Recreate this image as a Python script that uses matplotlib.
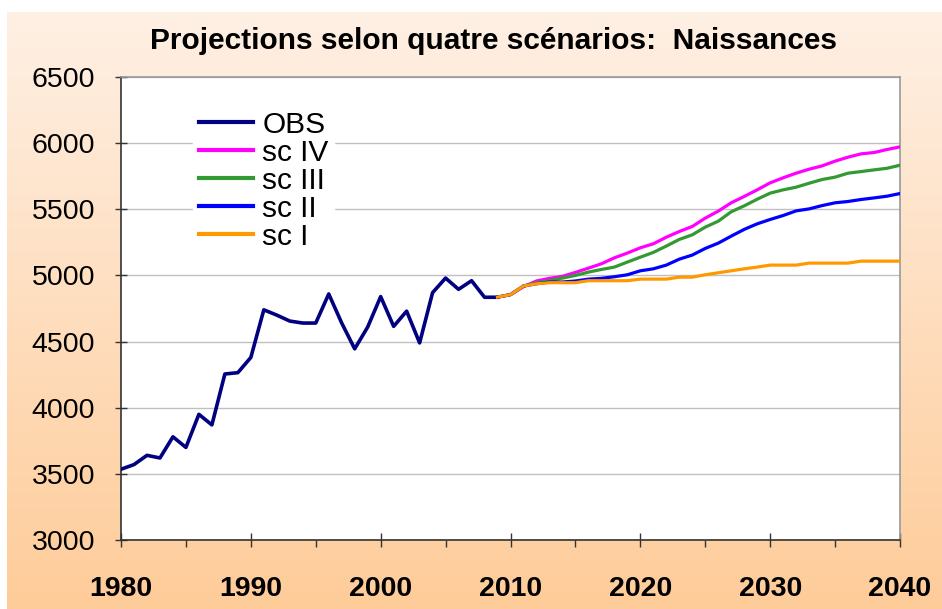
import numpy as np
import matplotlib
matplotlib.use("Agg")
import matplotlib.pyplot as plt
from matplotlib.ticker import MultipleLocator
from matplotlib.colors import LinearSegmentedColormap

plt.rcParams['font.family'] = ['Liberation Sans', 'DejaVu Sans']

title = "Projections selon quatre scénarios:  Naissances"

obs_years = list(range(1980, 2010))
obs = [3535, 3570, 3640, 3620, 3780, 3700, 3950, 3870, 4255, 4265,
       4380, 4740, 4700, 4655, 4640, 4640, 4860, 4640, 4445, 4610,
       4840, 4615, 4730, 4490, 4870, 4980, 4895, 4960, 4835, 4835]

sc_years = list(range(2009, 2041))
sc1 = [4836, 4855, 4920, 4937, 4945, 4945, 4945, 4960, 4960, 4960,
       4960, 4972, 4972, 4972, 4987, 4987, 5005, 5020, 5035, 5050,
       5063, 5078, 5078, 5078, 5093, 5093, 5093, 5093, 5108, 5108,
       5108, 5108]
sc2 = [4836, 4855, 4920, 4937, 4950, 4950, 4958, 4972, 4978, 4990,
       5005, 5035, 5050, 5078, 5123, 5154, 5204, 5244, 5297, 5348,
       5390, 5423, 5453, 5488, 5503, 5528, 5549, 5559, 5574, 5586,
       5599, 5619]
sc3 = [4836, 4855, 4920, 4945, 4960, 4980, 5000, 5025, 5045, 5063,
       5101, 5138, 5174, 5222, 5272, 5307, 5365, 5410, 5481, 5526,
       5576, 5622, 5647, 5667, 5697, 5725, 5743, 5773, 5785, 5798,
       5810, 5833]
sc4 = [4836, 4855, 4915, 4958, 4978, 4993, 5023, 5055, 5088, 5133,
       5169, 5209, 5239, 5289, 5332, 5370, 5433, 5486, 5549, 5597,
       5647, 5700, 5738, 5773, 5803, 5828, 5864, 5894, 5919, 5929,
       5952, 5972]

W, H = 942, 609
fig = plt.figure(figsize=(W / 100, H / 100), dpi=100)
fig.patch.set_facecolor('white')

# gradient background
bg = fig.add_axes([7 / W, 0, 1 - 7 / W, 1 - 12 / H], zorder=-10)
cmap = LinearSegmentedColormap.from_list('peach', ['#FEF0E4', '#FFCC99'])
grad = np.linspace(0, 1, 256).reshape(-1, 1)
bg.imshow(grad, aspect='auto', cmap=cmap, extent=[0, 1, 0, 1], origin='upper')
bg.set_axis_off()

left, right, top, bottom = 121, 900, 77, 540
ax = fig.add_axes([left / W, 1 - bottom / H, (right - left) / W, (bottom - top) / H])
ax.set_facecolor('white')

ax.plot(sc_years, sc4, color='#FF00FF', lw=2.3, label='sc IV', zorder=3)
ax.plot(sc_years, sc3, color='#339933', lw=2.3, label='sc III', zorder=3)
ax.plot(sc_years, sc2, color='#0000FF', lw=2.3, label='sc II', zorder=3)
ax.plot(sc_years, sc1, color='#FF9900', lw=2.3, label='sc I', zorder=4)
ax.plot(obs_years, obs, color='#000080', lw=2.6, label='OBS', zorder=3)

ax.set_xlim(1980, 2040)
ax.set_ylim(3000, 6500)
ax.xaxis.set_major_locator(MultipleLocator(10))
ax.xaxis.set_minor_locator(MultipleLocator(5))
ax.yaxis.set_major_locator(MultipleLocator(500))
ax.grid(axis='y', color='#C0C0C0', lw=1.0, zorder=1)

for s in ['top', 'right']:
    ax.spines[s].set_color('#999999')
    ax.spines[s].set_linewidth(1.2)
for s in ['left', 'bottom']:
    ax.spines[s].set_color('#333333')
    ax.spines[s].set_linewidth(1.2)

ax.tick_params(axis='y', which='major', direction='inout', length=9, width=1,
               color='#333333', labelsize=20.5, pad=14)
ax.tick_params(axis='x', which='major', direction='inout', length=10, width=1,
               color='#333333', labelsize=20.5, pad=21)
ax.tick_params(axis='x', which='minor', direction='out', length=5, width=1,
               color='#333333')
for lbl in ax.get_xticklabels():
    lbl.set_fontweight('bold')

handles, labels = ax.get_legend_handles_labels()
order = [4, 0, 1, 2, 3]
leg = ax.legend([handles[i] for i in order], [labels[i] for i in order],
                loc='upper left', bbox_to_anchor=(0.093, 0.94),
                frameon=True, fontsize=21.5, handlelength=1.8, handletextpad=0.3,
                labelspacing=0.0, borderpad=0.2, borderaxespad=0)
leg.get_frame().set_facecolor('white')
leg.get_frame().set_edgecolor('white')
leg.get_frame().set_alpha(1)
for l in leg.get_lines():
    l.set_linewidth(3)

fig.text(494 / W, 1 - 41 / H, title, ha='center', va='center',
         fontsize=21.5, fontweight='bold')

fig.savefig('out.png', dpi=100)
